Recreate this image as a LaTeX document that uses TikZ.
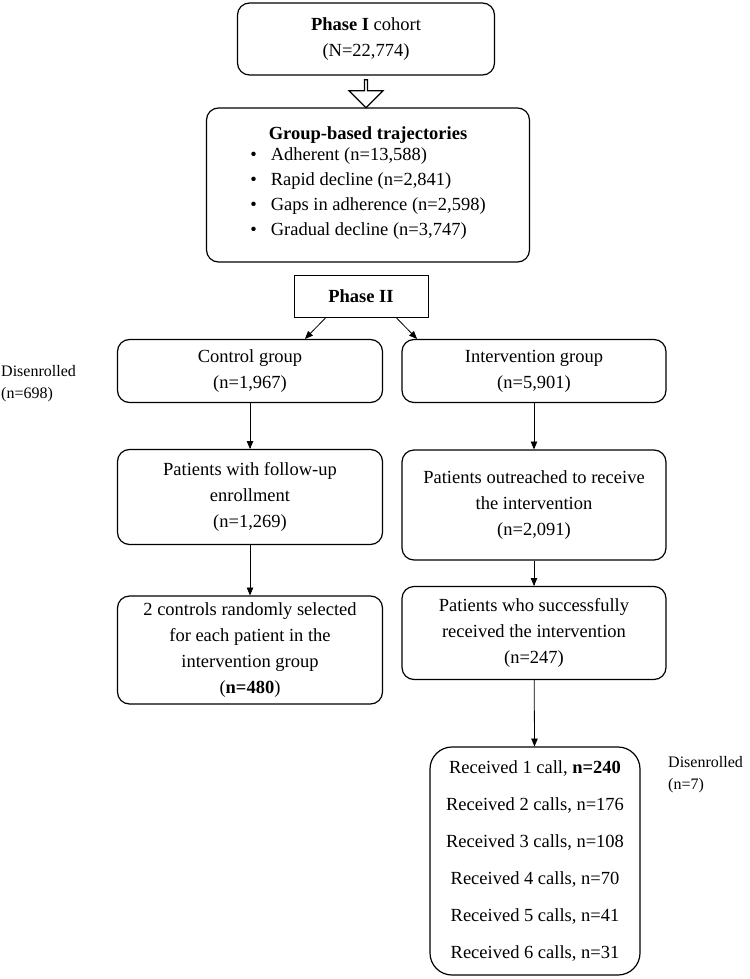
\documentclass[tikz,border=0pt]{standalone}
\usepackage{fontspec}
\setmainfont{Liberation Serif}
\usetikzlibrary{shapes,arrows,positioning,calc}

\begin{document}
\begin{tikzpicture}[x=1pt, y=-1pt, font=\fontsize{18.5}{26}\selectfont,
                box/.style={rectangle, draw, rounded corners=12pt, line width=1.2pt, align=center},
                plain/.style={rectangle, draw, line width=0.8pt, align=center},
                note/.style={align=left, inner sep=0pt, anchor=west, font=\fontsize{16}{22}\selectfont},
                arrow/.style={->, >=triangle 45, line width=0.8pt}]
                \useasboundingbox (0,0) rectangle (749,979);

                % Phase I
                \node[box, minimum width=257pt, minimum height=72pt] (phase1) at (366,39) {\textbf{Phase I} cohort\\(N=22,774)};

                % Trajectories
                \node[box, minimum width=323pt, minimum height=154pt] (traj) at (368,185) {\textbf{Group-based trajectories}\\[-2pt]
                  \begin{tabular}{@{}l@{\hspace{14pt}}l@{}}
                  \textbullet & Adherent (n=13,588)\\[-1pt]
                  \textbullet & Rapid decline (n=2,841)\\[-1pt]
                  \textbullet & Gaps in adherence (n=2,598)\\[-1pt]
                  \textbullet & Gradual decline (n=3,747)
                  \end{tabular}};
                \node[single arrow, draw, line width=1.2pt, shape border rotate=270, minimum height=28pt, minimum width=34pt, single arrow head extend=6pt, inner sep=0pt] (hollow) at (366,93) {};

                % Phase II
                \node[plain, minimum width=134pt, minimum height=42pt] (phase2) at (361,296) {\textbf{Phase II}};

                % Control arm
                \node[box, minimum width=265pt, minimum height=63pt] (ctrl) at (250,371) {Control group\\(n=1,967)};
                \node[box, minimum width=265pt, minimum height=95pt] (follow) at (250,497) {Patients with follow-up\\enrollment\\(n=1,269)};
                \node[box, minimum width=265pt, minimum height=108pt] (select) at (250,650) {2 controls randomly selected\\for each patient in the\\intervention group\\(\textbf{n=480})};
                \node[note] (dis1) at (1,384) {Disenrolled\\(n=698)};
                \draw[arrow] (ctrl) -- (follow);
                \draw[arrow] (follow) -- (select);

                % Intervention arm
                \node[box, minimum width=264pt, minimum height=63pt] (interv) at (534,371) {Intervention group\\(n=5,901)};
                \node[box, minimum width=264pt, minimum height=110pt] (reach) at (534,505) {Patients outreached to receive\\the intervention\\(n=2,091)};
                \node[box, minimum width=264pt, minimum height=93pt] (success) at (534,633) {Patients who successfully\\received the intervention\\(n=247)};
                \node[box, rounded corners=22pt, minimum width=210pt, minimum height=228pt] (calls) at (535,861) {Received 1 call, \textbf{n=240}\\[11pt]
                  Received 2 calls, n=176\\[11pt] Received 3 calls, n=108\\[11pt] Received 4 calls, n=70\\[11pt]
                  Received 5 calls, n=41\\[11pt] Received 6 calls, n=31};
                \node[note] (dis2) at (668,775) {Disenrolled\\(n=7)};
                \draw[arrow] (interv) -- (reach);
                \draw[arrow] (reach) -- (success);
                \draw[arrow] (success) -- (calls);

                % Split
                \draw[arrow] (phase2.south) ++(-35,0) coordinate (sl) -- (ctrl.north -| 305,0);
                \draw[arrow] (phase2.south) ++(35,0) coordinate (sr) -- (interv.north -| 417,0);

            \end{tikzpicture}
\end{document}
